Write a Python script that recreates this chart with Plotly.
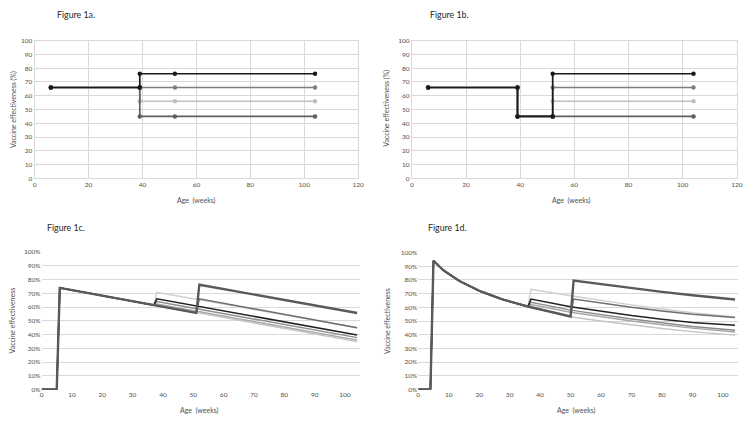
import plotly.graph_objects as go

# ---------------- Data ----------------
# Figure 1a (step functions, booster at 39 weeks)
a_x = [6, 39, 39, 52, 104]
a_black = [66, 66, 76, 76, 76]
a_gray = [66, 66, 66, 66, 66]
a_light = [66, 66, 56, 56, 56]
a_dark = [66, 66, 45, 45, 45]

# Figure 1b (drop at 39 weeks, booster at 52 weeks)
b_x = [6, 39, 39, 52, 52, 104]
b_black = [66, 66, 45, 45, 76, 76]
b_gray = [66, 66, 45, 45, 66, 66]
b_light = [66, 66, 45, 45, 56, 56]
b_dark = [66, 66, 45, 45, 45, 45]

# Figure 1c (linear waning)
c_x_b52 = [0, 5, 6, 51, 52, 104]
c_dark76 = [0, 0, 74, 55.8, 76.3, 55.7]
c_gray66 = [0, 0, 74, 55.8, 66, 45]
c_x_b38 = [0, 5, 6, 37, 38, 104]
c_light71 = [0, 0, 74, 61.4, 70.8, 45]
c_black66 = [0, 0, 74, 61.4, 66, 39.7]
c_gray64 = [0, 0, 74, 61.4, 64, 37.8]
c_gray62 = [0, 0, 74, 61.4, 62.2, 36]
c_x_none = [0, 5, 6, 104]
c_none = [0, 0, 74, 34.9]

# Figure 1d (non-linear waning)
d_x_base = [0, 4, 5, 6, 7, 8, 9, 10, 11, 12, 13, 14, 15, 16, 17, 18, 19, 20, 21, 22,
            23, 24, 25, 26, 27, 28, 29, 30, 31, 32, 33, 34, 35, 36]
d_base = [0, 0, 94, 91.6, 89.5, 87.6, 85.9, 84.3, 82.8, 81.4, 80.0, 78.7, 77.5, 76.3,
          75.2, 74.1, 73.1, 72.1, 71.2, 70.3, 69.4, 68.6, 67.8, 67.0, 66.3, 65.6, 64.9,
          64.2, 63.6, 63.0, 62.4, 61.8, 61.2, 60.6]
d_x_mid = [37, 38, 40, 42, 44, 46, 48, 50]
d_mid = [60.1, 59.6, 58.5, 57.4, 56.3, 55.3, 54.3, 53.3]
d_x_b52 = [51, 60, 70, 80, 90, 104]
d_dark79 = [79.5, 76.8, 74, 71.3, 68.8, 65.7]
d_gray66 = [66, 63, 60, 57.3, 55, 52.5]
d_none = [52.8, 50, 47, 44.5, 42.3, 39.7]
d_x_b37 = [37, 50, 60, 70, 80, 90, 104]
d_light73 = [73.2, 68.5, 65, 61.8, 58.8, 56, 53]
d_black66 = [66, 60.5, 57, 54, 51.3, 49, 46.9]
d_gray63 = [63.7, 58, 54.5, 51.5, 48.7, 46, 43.3]
d_gray62 = [62, 56.4, 53, 50, 47.3, 44.8, 42]

x_ticks_ab = [0, 20, 40, 60, 80, 100, 120]
y_ticks_ab = [0, 10, 20, 30, 40, 50, 60, 70, 80, 90, 100]
x_ticks_cd = [0, 10, 20, 30, 40, 50, 60, 70, 80, 90, 100]
y_ticks_cd = [0, 10, 20, 30, 40, 50, 60, 70, 80, 90, 100]
y_ticktext_cd = ["0%", "10%", "20%", "30%", "40%", "50%", "60%", "70%", "80%", "90%", "100%"]

titles = ["Figure 1a.", "Figure 1b.", "Figure 1c.", "Figure 1d."]
x_title = "Age  (weeks)"
y_title_ab = "Vaccine effectiveness (%)"
y_title_cd = "Vaccine effectiveness"

# ---------------- Styles ----------------
BLACK = "#1a1a1a"
GRAY = "#7f7f7f"
LIGHT = "#bfbfbf"
DARK = "#5f5f5f"
GRID = "#d9d9d9"
TXT = "#505050"
FONT = "Lato"

W, H = 754, 424


def px_x(p):
    return p / W


def px_y(p):
    return 1 - p / H


fig = go.Figure()


def add_step(xs, ys, color, ax):
    fig.add_trace(go.Scatter(
        x=xs, y=ys, mode="lines+markers", xaxis=ax[0], yaxis=ax[1],
        line=dict(color=color, width=1.7),
        marker=dict(color=color, size=4.5, symbol="circle"),
        showlegend=False, hoverinfo="skip"))


def add_line(xs, ys, color, width, ax):
    fig.add_trace(go.Scatter(
        x=xs, y=ys, mode="lines", xaxis=ax[0], yaxis=ax[1],
        line=dict(color=color, width=width),
        showlegend=False, hoverinfo="skip"))


# Panel a
for ys, col in [(a_light, LIGHT), (a_gray, GRAY), (a_dark, DARK), (a_black, BLACK)]:
    add_step(a_x, ys, col, ("x", "y"))
# Panel b
for ys, col in [(b_light, LIGHT), (b_gray, GRAY), (b_dark, DARK), (b_black, BLACK)]:
    add_step(b_x, ys, col, ("x2", "y2"))

# Panel c
add_line(c_x_none, c_none, "#c4c4c4", 1.4, ("x3", "y3"))
add_line(c_x_b38, c_gray62, "#a6a6a6", 1.4, ("x3", "y3"))
add_line(c_x_b38, c_gray64, "#8c8c8c", 1.4, ("x3", "y3"))
add_line(c_x_b38, c_light71, "#cfcfcf", 1.4, ("x3", "y3"))
add_line(c_x_b52, c_gray66, "#6e6e6e", 1.5, ("x3", "y3"))
add_line(c_x_b38, c_black66, "#222222", 1.5, ("x3", "y3"))
add_line(c_x_b52, c_dark76, "#5a5a5a", 2.4, ("x3", "y3"))

# Panel d
base_x = d_x_base + d_x_mid
base_y = d_base + d_mid
add_line(base_x + d_x_b52, base_y + d_none, "#c4c4c4", 1.4, ("x4", "y4"))
add_line(d_x_base + d_x_b37, d_base + d_gray62, "#a6a6a6", 1.4, ("x4", "y4"))
add_line(d_x_base + d_x_b37, d_base + d_gray63, "#8c8c8c", 1.4, ("x4", "y4"))
add_line(d_x_base + d_x_b37, d_base + d_light73, "#cfcfcf", 1.4, ("x4", "y4"))
add_line(base_x + d_x_b52, base_y + d_gray66, "#6e6e6e", 1.5, ("x4", "y4"))
add_line(d_x_base + d_x_b37, d_base + d_black66, "#222222", 1.5, ("x4", "y4"))
add_line(base_x + d_x_b52, base_y + d_dark79, "#5a5a5a", 2.4, ("x4", "y4"))

tickfont = dict(family=FONT, size=6.5, color=TXT)

ab_x = dict(range=[0, 120], tickvals=x_ticks_ab, showgrid=True, gridcolor=GRID,
            gridwidth=1, zeroline=False, showline=True, linecolor=GRID, mirror=True,
            ticks="", tickfont=tickfont)
ab_y = dict(range=[0, 100], tickvals=y_ticks_ab, showgrid=True, gridcolor=GRID,
            gridwidth=1, zeroline=False, showline=True, linecolor=GRID, mirror=True,
            ticks="", tickfont=tickfont)
cd_x = dict(range=[0, 105], tickvals=x_ticks_cd, showgrid=False, zeroline=False,
            showline=False, ticks="", tickfont=tickfont)
cd_y = dict(range=[0, 100], tickvals=y_ticks_cd, ticktext=y_ticktext_cd, showgrid=True,
            gridcolor=GRID, gridwidth=1, zeroline=False, showline=False, ticks="",
            tickfont=tickfont)

fig.update_layout(
    width=W, height=H, margin=dict(l=0, r=0, t=0, b=0),
    paper_bgcolor="white", plot_bgcolor="white", showlegend=False,
    xaxis=dict(domain=[px_x(33), px_x(360)], anchor="y", **ab_x),
    yaxis=dict(domain=[px_y(177.3), px_y(37.3)], anchor="x", **ab_y),
    xaxis2=dict(domain=[px_x(414.3), px_x(742.7)], anchor="y2", **ab_x),
    yaxis2=dict(domain=[px_y(177.3), px_y(37.3)], anchor="x2", **ab_y),
    xaxis3=dict(domain=[px_x(40), px_x(362)], anchor="y3", **cd_x),
    yaxis3=dict(domain=[px_y(392), px_y(252.3)], anchor="x3", **cd_y),
    xaxis4=dict(domain=[px_x(420.7), px_x(744)], anchor="y4", **cd_x),
    yaxis4=dict(domain=[px_y(392), px_y(252.7)], anchor="x4", **cd_y),
)

ann = []
# Figure labels
for t, (lx, ly) in zip(titles, [(54, 11), (431, 11), (43, 227), (428.7, 227)]):
    ann.append(dict(text=t, x=px_x(lx), y=px_y(ly), xref="paper", yref="paper",
                    xanchor="left", yanchor="middle", showarrow=False,
                    font=dict(family=FONT, size=8.8, color="#262626")))
# x axis titles
for (cx, cy) in [(197, 199.3), (576, 199.3), (200, 413.7), (581, 413.7)]:
    ann.append(dict(text=x_title, x=px_x(cx), y=px_y(cy), xref="paper", yref="paper",
                    xanchor="center", yanchor="middle", showarrow=False,
                    font=dict(family=FONT, size=7, color=TXT)))
# y axis titles
for (cx, cy), t in zip([(11, 107), (388.7, 106), (10, 322), (389.7, 322.8)],
                       [y_title_ab, y_title_ab, y_title_cd, y_title_cd]):
    ann.append(dict(text=t, x=px_x(cx), y=px_y(cy), xref="paper", yref="paper",
                    xanchor="center", yanchor="middle", showarrow=False, textangle=-90,
                    font=dict(family=FONT, size=7, color=TXT)))
fig.update_layout(annotations=ann)

fig.write_html("out.html", config={"displayModeBar": False},
               post_script="document.body.style.margin='0px';")
